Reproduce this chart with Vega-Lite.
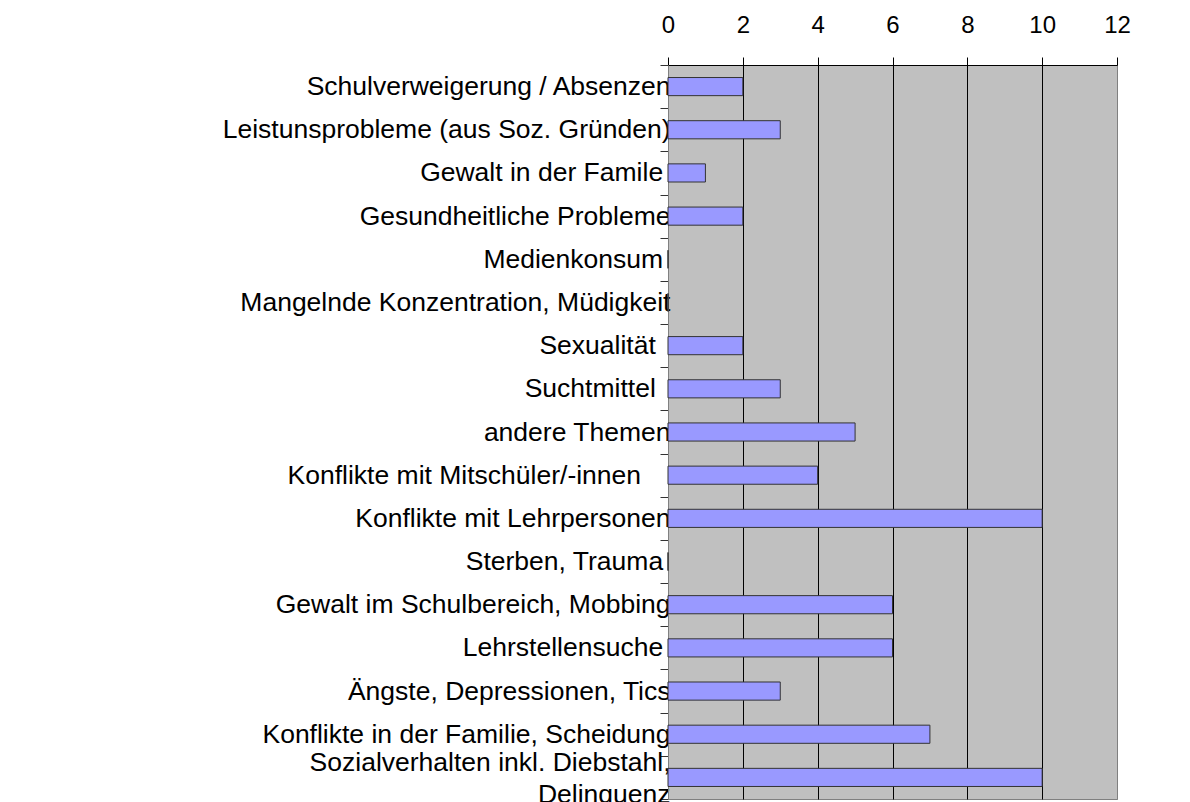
{
  "$schema": "https://vega.github.io/schema/vega-lite/v6.json",
  "width": 449,
  "height": 734,
  "autosize": "none",
  "padding": {"left": 668, "top": 65, "right": 73, "bottom": 3},
  "background": "white",
  "config": {
    "view": {"fill": "#C0C0C0", "stroke": "#808080", "strokeWidth": 1},
    "font": "Liberation Sans"
  },
  "data": {
    "values": [
      {"topic": "Schulverweigerung / Absenzen", "count": 2},
      {"topic": "Leistunsprobleme (aus Soz. Gründen)", "count": 3},
      {"topic": "Gewalt in der Famile\u00a0\u200b", "count": 1},
      {"topic": "Gesundheitliche Probleme", "count": 2},
      {"topic": "Medienkonsum\u00a0\u200b", "count": 0},
      {"topic": "Mangelnde Konzentration, Müdigkeit", "count": 0},
      {"topic": "Sexualität\u00a0\u00a0\u200b", "count": 2},
      {"topic": "Suchtmittel\u00a0\u00a0\u200b", "count": 3},
      {"topic": "andere Themen", "count": 5},
      {"topic": "Konflikte mit Mitschüler/-innen\u00a0\u00a0\u00a0\u00a0\u200b", "count": 4},
      {"topic": "Konflikte mit Lehrpersonen", "count": 10},
      {"topic": "Sterben, Trauma\u00a0\u200b", "count": 0},
      {"topic": "Gewalt im Schulbereich, Mobbing", "count": 6},
      {"topic": "Lehrstellensuche\u00a0\u200b", "count": 6},
      {"topic": "Ängste, Depressionen, Tics", "count": 3},
      {"topic": "Konflikte in der Familie, Scheidung", "count": 7},
      {"topic": "Sozialverhalten inkl. Diebstahl,|Delinquenz", "count": 10}
    ]
  },
  "mark": {
    "type": "bar",
    "height": {"band": 0.42},
    "color": "#9999FF",
    "stroke": "#333333",
    "strokeWidth": 1
  },
  "encoding": {
    "y": {
      "field": "topic",
      "type": "nominal",
      "sort": null,
      "scale": {"paddingInner": 0, "paddingOuter": 0},
      "axis": {
        "title": null,
        "tickBand": "extent",
        "tickSize": 8,
        "tickColor": "#333333",
        "domainColor": "#808080",
        "labelFontSize": 26.5,
        "labelColor": "black",
        "labelPadding": -10,
        "labelLimit": 0,
        "labelLineHeight": 32,
        "labelOffset": {"condition": {"test": "datum.value == 'Sozialverhalten inkl. Diebstahl,|Delinquenz'", "value": -15}, "value": 0},
        "labelExpr": "split(datum.label, '|')",
        "grid": false
      }
    },
    "x": {
      "field": "count",
      "type": "quantitative",
      "scale": {"domain": [0, 12], "nice": false},
      "axis": {
        "orient": "top",
        "title": null,
        "values": [0, 2, 4, 6, 8, 10, 12],
        "grid": true,
        "gridColor": {"condition": {"test": "datum.value == 0 || datum.value == 12", "value": "#808080"}, "value": "black"},
        "gridOpacity": 1,
        "tickSize": 8,
        "tickColor": "black",
        "domainColor": "black",
        "labelFontSize": 24,
        "labelColor": "black",
        "labelPadding": 20,
        "labelFlush": false
      }
    }
  }
}
